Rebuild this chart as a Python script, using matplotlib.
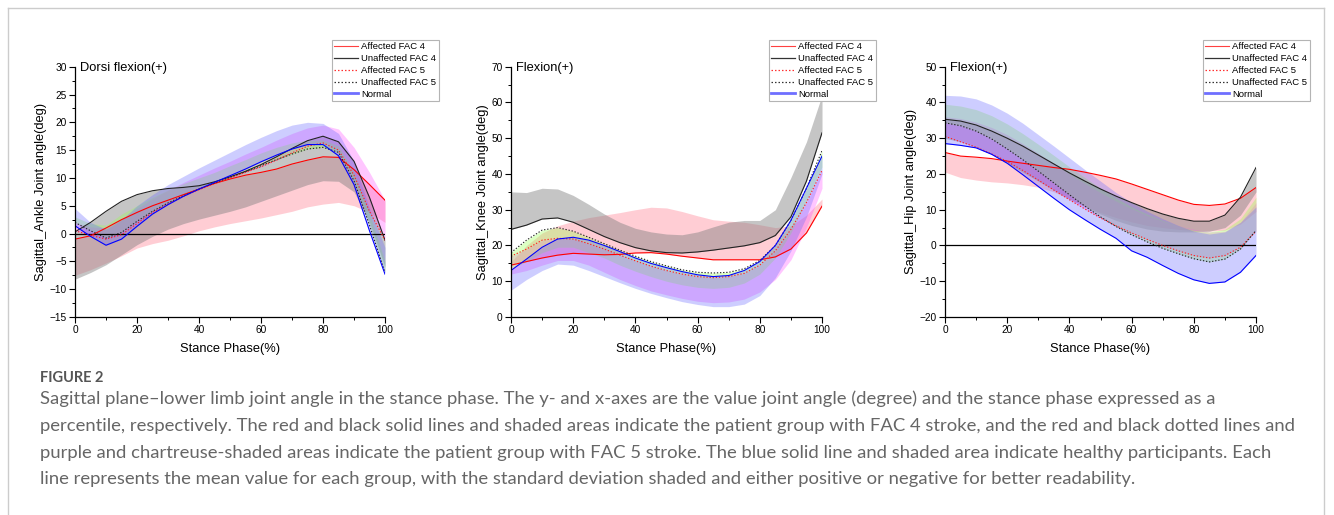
import matplotlib
matplotlib.use('Agg')
import matplotlib.pyplot as plt
from matplotlib.lines import Line2D
from matplotlib.ticker import MultipleLocator

plt.rcParams['font.family'] = ['Liberation Sans', 'DejaVu Sans']

phase = [0, 5, 10, 15, 20, 25, 30, 35, 40, 45, 50, 55, 60, 65, 70, 75, 80, 85, 90, 95, 100]

# ankle
ank_red = [-1.0, -0.4, 1.0, 2.5, 3.8, 5.0, 6.0, 7.0, 8.0, 9.0, 9.8, 10.5, 11.0, 11.6, 12.5, 13.2, 13.8, 13.7, 11.5, 8.8, 6.0]
ank_red_sd = [-7.5, -6.5, -5.3, -4.0, -2.6, -1.8, -1.2, -0.4, 0.5, 1.2, 1.8, 2.3, 2.8, 3.4, 4.0, 4.8, 5.3, 5.6, 5.0, 3.8, 2.0]
ank_blk = [0.3, 2.0, 4.0, 5.8, 7.0, 7.7, 8.1, 8.3, 8.6, 9.3, 10.2, 11.2, 12.4, 13.8, 15.3, 16.7, 17.5, 16.5, 13.0, 6.5, -1.2]
ank_blk_sd = [-8.2, -7.0, -5.6, -3.8, -2.0, -0.5, 0.8, 1.8, 2.6, 3.3, 4.0, 4.8, 5.8, 6.8, 7.8, 8.8, 9.5, 9.4, 7.5, 2.0, -6.0]
ank_rdot = [0.5, -0.3, -1.0, -0.2, 1.8, 3.8, 5.3, 6.7, 7.9, 9.0, 10.0, 11.0, 12.0, 13.2, 14.5, 15.7, 16.3, 15.0, 10.5, 4.0, -1.2]
ank_rdot_sd = [2.0, 1.2, 1.0, 2.5, 4.5, 6.3, 7.8, 9.2, 10.5, 11.8, 13.0, 14.3, 15.5, 16.8, 18.0, 19.0, 19.5, 18.8, 15.5, 11.0, 6.0]
ank_kdot = [2.0, 0.5, -0.8, 0.2, 2.2, 4.0, 5.5, 6.8, 8.0, 9.1, 10.1, 11.1, 12.2, 13.3, 14.3, 15.2, 15.5, 14.6, 9.5, 1.5, -7.0]
ank_kdot_sd = [3.0, 1.8, 1.5, 3.5, 5.0, 6.5, 7.8, 9.0, 10.0, 11.0, 12.2, 13.3, 14.5, 15.5, 16.3, 16.8, 16.8, 15.8, 11.0, 3.5, -5.0]
ank_blue = [1.4, -0.5, -2.1, -1.0, 1.3, 3.5, 5.2, 6.7, 8.0, 9.2, 10.4, 11.6, 12.9, 14.1, 15.2, 16.0, 16.0, 14.0, 8.8, 0.5, -7.3]
ank_blue_sd = [4.5, 2.0, 0.8, 2.5, 5.0, 7.0, 8.8, 10.3, 11.8, 13.2, 14.6, 16.0, 17.3, 18.5, 19.5, 20.0, 19.8, 18.0, 13.0, 4.5, -2.5]

# knee
kn_red = [14.5, 15.5, 16.5, 17.3, 17.8, 17.6, 17.4, 17.5, 17.9, 18.0, 17.6, 17.0, 16.5, 16.0, 16.0, 16.0, 16.0, 16.8, 19.0, 23.5, 31.0]
kn_red_sd = [15.5, 20.0, 23.5, 25.5, 26.8, 27.8, 28.5, 29.2, 30.0, 30.7, 30.5, 29.5, 28.3, 27.2, 26.8, 26.5, 25.8, 25.0, 25.5, 28.5, 33.0]
kn_blk = [24.5, 25.7, 27.4, 27.7, 26.5, 24.5, 22.5, 20.8, 19.4, 18.5, 18.0, 17.9, 18.2, 18.7, 19.3, 19.9, 20.8, 22.8, 28.0, 38.0, 51.5]
kn_blk_sd = [35.0, 34.8, 36.0, 35.8, 34.0, 31.5, 28.8, 26.5, 24.8, 23.8, 23.2, 23.0, 23.8, 25.2, 26.5, 27.0, 27.0, 30.0, 39.0, 49.0, 62.0]
kn_rdot = [17.0, 19.0, 21.5, 22.0, 21.8, 20.5, 19.0, 17.3, 15.7, 14.2, 13.0, 12.0, 11.3, 11.0, 11.3, 12.2, 14.5, 18.5, 24.5, 32.0, 41.0]
kn_rdot_sd = [12.0, 13.0, 14.5, 15.8, 15.8, 14.5, 12.5, 10.5, 8.8, 7.3, 6.2, 5.2, 4.4, 4.0, 4.2, 5.0, 7.0, 10.5, 16.0, 25.0, 36.0]
kn_kdot = [18.0, 21.5, 24.3, 25.0, 24.0, 22.3, 20.5, 18.7, 17.0, 15.5, 14.3, 13.2, 12.5, 12.3, 12.5, 13.5, 15.8, 20.0, 27.0, 36.0, 46.5]
kn_kdot_sd = [13.5, 15.5, 18.0, 19.5, 19.5, 18.0, 16.5, 14.5, 12.8, 11.3, 10.0, 9.0, 8.3, 8.0, 8.3, 9.5, 12.0, 16.5, 23.5, 32.5, 42.0]
kn_blue = [13.0, 16.2, 19.5, 21.8, 22.3, 21.5, 20.0, 18.3, 16.5, 15.0, 13.8, 12.7, 11.8, 11.3, 11.6, 13.0, 15.5, 20.0, 27.0, 36.0, 45.0]
kn_blue_sd = [7.5, 10.5, 13.0, 14.8, 14.5, 13.0, 11.3, 9.6, 8.0, 6.6, 5.4, 4.3, 3.5, 2.9, 2.9, 3.6, 6.0, 11.0, 18.5, 28.0, 40.0]

# hip
hp_red = [26.0, 25.0, 24.7, 24.3, 23.6, 23.0, 22.4, 21.8, 21.3, 20.5, 19.6, 18.6, 17.2, 15.7, 14.2, 12.7, 11.5, 11.2, 11.6, 13.2, 16.2]
hp_red_sd = [20.5, 19.0, 18.3, 17.8, 17.5, 17.0, 16.3, 15.0, 13.0, 11.0, 9.2, 7.8, 6.6, 5.6, 5.0, 4.5, 4.2, 4.0, 4.3, 6.0, 9.5]
hp_blk = [35.3, 34.8, 33.7, 32.0, 30.0, 27.8, 25.3, 22.8, 20.3, 18.0, 15.8, 13.8, 12.0, 10.3, 8.8, 7.6, 6.8, 6.8, 8.5, 13.5, 21.8]
hp_blk_sd = [30.0, 29.0, 27.5, 25.5, 23.0, 20.5, 18.0, 15.5, 13.0, 10.8, 8.8, 7.0, 5.6, 4.6, 4.0, 3.8, 3.8, 4.0, 5.0, 8.5, 15.0]
hp_rdot = [30.5, 29.0, 27.5, 25.6, 23.5, 21.0, 18.3, 15.5, 12.8, 10.2, 7.7, 5.5, 3.5, 1.7, 0.0, -1.5, -2.8, -3.5, -2.8, -0.5, 4.0]
hp_rdot_sd = [36.0, 35.5, 34.5, 33.0, 31.0, 28.5, 25.8, 23.0, 20.0, 17.3, 14.8, 12.4, 10.3, 8.4, 6.8, 5.5, 4.5, 3.8, 4.0, 6.5, 12.0]
hp_kdot = [34.3, 33.5, 32.0, 29.8, 27.0, 24.0, 20.8, 17.5, 14.2, 11.0, 8.0, 5.3, 3.0, 1.0, -0.8, -2.3, -3.7, -4.6, -3.8, -1.0, 4.2]
hp_kdot_sd = [39.5, 39.0, 38.0, 36.3, 34.0, 31.3, 28.3, 25.2, 22.0, 19.0, 16.0, 13.3, 10.8, 8.8, 7.0, 5.5, 4.3, 3.8, 4.5, 7.5, 13.5]
hp_blue = [28.5, 28.0, 27.3, 25.5, 23.0, 19.8, 16.5, 13.2, 10.0, 7.2, 4.5, 2.0, -1.5, -3.3, -5.6, -7.8, -9.6, -10.6, -10.2, -7.5, -2.8]
hp_blue_sd = [42.0, 41.8, 41.0, 39.3, 37.0, 34.2, 31.0, 27.8, 24.5, 21.2, 18.0, 14.8, 12.0, 9.6, 7.5, 5.6, 4.0, 3.2, 3.8, 6.5, 10.8]

group_names = ['Affected FAC 4', 'Unaffected FAC 4', 'Affected FAC 5', 'Unaffected FAC 5', 'Normal']

caption_head = "FIGURE 2"
caption_lines = [
    "Sagittal plane\u2013lower limb joint angle in the stance phase. The y- and x-axes are the value joint angle (degree) and the stance phase expressed as a",
    "percentile, respectively. The red and black solid lines and shaded areas indicate the patient group with FAC 4 stroke, and the red and black dotted lines and",
    "purple and chartreuse-shaded areas indicate the patient group with FAC 5 stroke. The blue solid line and shaded area indicate healthy participants. Each",
    "line represents the mean value for each group, with the standard deviation shaded and either positive or negative for better readability.",
]

W, H = 1334, 515
line_styles = [('#ff0000', '-'), ('#222222', '-'), ('#ff2020', ':'), ('#222222', ':'), ('#0000ff', '-')]
fill_styles = [('#ff8a9a', 0.42), ('#7f7f7f', 0.45), ('#ff50ff', 0.32), ('#9aff50', 0.35), ('#6a6aff', 0.33)]


def draw_panel(ax, means, bounds, ylim, ystep, ylabel, note, zero_line, label_x):
    for (col, a), m, b in zip(fill_styles, means, bounds):
        ax.fill_between(phase, m, b, color=col, alpha=a, lw=0)
    if zero_line:
        ax.axhline(0, color='black', lw=0.9)
    for (col, ls), m in zip(line_styles, means):
        if ls == '-':
            ax.plot(phase, m, color=col, lw=0.8)
        else:
            ax.plot(phase, m, color=col, lw=0.8, dashes=(1.2, 1.6))

    ax.set_xlim(0, 100)
    ax.set_ylim(*ylim)
    ax.xaxis.set_major_locator(MultipleLocator(20))
    ax.xaxis.set_minor_locator(MultipleLocator(10))
    ax.yaxis.set_major_locator(MultipleLocator(ystep))
    ax.yaxis.set_minor_locator(MultipleLocator(ystep / 2))
    for side in ('top', 'right'):
        ax.spines[side].set_visible(False)
    for side in ('left', 'bottom'):
        ax.spines[side].set_linewidth(0.9)
    ax.tick_params(which='major', direction='out', length=4, width=0.8, labelsize=7.3, pad=2)
    ax.tick_params(which='minor', direction='out', length=2.2, width=0.7)

    ax.set_xlabel('Stance Phase(%)', fontsize=9.3)
    ax.xaxis.set_label_coords(0.5, -0.105)
    ax.set_ylabel(ylabel, fontsize=9.3)
    ax.yaxis.set_label_coords(label_x, 0.5)
    ax.text(0.017, 0.996, note, transform=ax.transAxes, fontsize=9.3, va='center', ha='left')


fig = plt.figure(figsize=(W / 100, H / 100), dpi=100)

panels = [
    (75, 310, [ank_red, ank_blk, ank_rdot, ank_kdot, ank_blue],
     [ank_red_sd, ank_blk_sd, ank_rdot_sd, ank_kdot_sd, ank_blue_sd],
     (-15, 30), 5, 'Sagittal_Ankle Joint angle(deg)', 'Dorsi flexion(+)', True, -0.091, 332),
    (511, 311, [kn_red, kn_blk, kn_rdot, kn_kdot, kn_blue],
     [kn_red_sd, kn_blk_sd, kn_rdot_sd, kn_kdot_sd, kn_blue_sd],
     (0, 70), 10, 'Sagittal_Knee Joint angle(deg)', 'Flexion(+)', False, -0.071, 769),
    (945, 311, [hp_red, hp_blk, hp_rdot, hp_kdot, hp_blue],
     [hp_red_sd, hp_blk_sd, hp_rdot_sd, hp_kdot_sd, hp_blue_sd],
     (-20, 50), 10, 'Sagittal_Hip Joint angle(deg)', 'Flexion(+)', True, -0.09, 1203),
]

handles = [
    Line2D([], [], color='#ff4040', lw=0.8),
    Line2D([], [], color='#333333', lw=0.9),
    Line2D([], [], color='#ff3030', lw=0.9, dashes=(1.2, 1.6)),
    Line2D([], [], color='#333333', lw=0.9, dashes=(1.2, 1.6)),
    Line2D([], [], color='#6f6fff', lw=2.0),
]

for left, width, means, bounds, ylim, ystep, ylabel, note, zero, lx, leg_x in panels:
    ax = fig.add_axes([left / W, 1 - 317 / H, width / W, 250.3 / H])
    draw_panel(ax, means, bounds, ylim, ystep, ylabel, note, zero, lx)
    leg = ax.legend(handles, group_names, loc='upper left', bbox_to_anchor=(leg_x / W, 1 - 40 / H),
                    bbox_transform=fig.transFigure, fontsize=6.8, frameon=True, fancybox=False,
                    framealpha=1, edgecolor='#b4b4b4', borderpad=0.25, borderaxespad=0,
                    labelspacing=0.3, handlelength=2.5, handletextpad=0.35)
    leg.get_frame().set_linewidth(0.8)

# page border
border = '#cccccc'
fig.add_artist(Line2D([7.5 / W, 1323.5 / W], [1 - 7.5 / H, 1 - 7.5 / H], color=border, lw=1, transform=fig.transFigure))
fig.add_artist(Line2D([7.5 / W, 7.5 / W], [1 - 7.5 / H, 0], color=border, lw=1, transform=fig.transFigure))
fig.add_artist(Line2D([1323.5 / W, 1323.5 / W], [1 - 7.5 / H, 0], color=border, lw=1, transform=fig.transFigure))

fig.text(40 / W, 1 - 382 / H, caption_head, fontsize=10.5, fontweight='bold', color='#555555',
         family=['Lato', 'DejaVu Sans'], va='baseline')
for i, line in enumerate(caption_lines):
    fig.text(40 / W, 1 - (404 + 26.8 * i) / H, line, fontsize=13.3, color='#666666',
             family=['Lato', 'DejaVu Sans'], va='baseline')

fig.savefig('out.png', dpi=100)
